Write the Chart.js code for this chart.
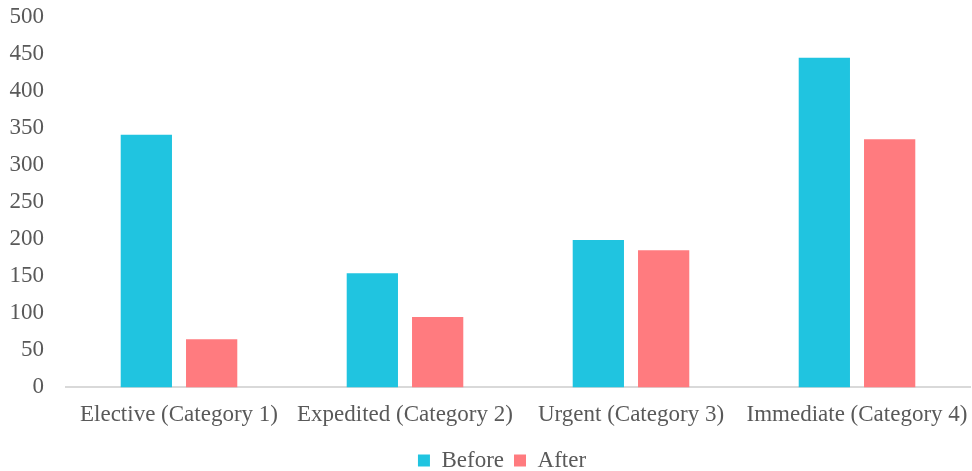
<!DOCTYPE html>
<html>
<head>
<meta charset="utf-8">
<script src="https://cdn.jsdelivr.net/npm/chart.js@4/dist/chart.umd.min.js"></script>
<style>
  html, body { margin: 0; padding: 0; background: #fff; }
  #wrap { width: 972px; height: 471px; }
</style>
</head>
<body>
<div id="wrap"><canvas id="c" width="972" height="471"></canvas></div>
<script>
const categories = [
  'Elective (Category 1)',
  'Expedited (Category 2)',
  'Urgent (Category 3)',
  'Immediate (Category 4)'
];
const beforeValues = [341, 154, 199, 445];
const afterValues = [65, 95, 185, 335];

const textColor = '#595959';
const serif = '"Liberation Serif", "Times New Roman", serif';

// nudges the bottom legend a little to the right of the canvas centre
const legendShift = {
  id: 'legendShift',
  afterLayout(chart) {
    if (chart.legend) {
      chart.legend.left += 17;
      chart.legend.right += 17;
    }
  }
};

new Chart(document.getElementById('c'), {
  type: 'bar',
  data: {
    labels: categories,
    datasets: [
      {
        label: 'Before',
        data: beforeValues,
        backgroundColor: '#20C4E0',
        categoryPercentage: 0.578,
        barPercentage: 0.785
      },
      {
        label: 'After',
        data: afterValues,
        backgroundColor: '#FF7B7F',
        categoryPercentage: 0.578,
        barPercentage: 0.785
      }
    ]
  },
  plugins: [legendShift],
  options: {
    responsive: false,
    animation: false,
    layout: { padding: { left: 0, right: 2, top: 17, bottom: -11 } },
    plugins: {
      legend: {
        position: 'bottom',
        labels: {
          color: textColor,
          font: { family: serif, size: 23 },
          boxWidth: 12,
          boxHeight: 12,
          padding: 10
        }
      },
      tooltip: { enabled: false }
    },
    scales: {
      x: {
        grid: { display: false, drawTicks: false },
        border: { display: true, color: '#d9d9d9', width: 2 },
        ticks: {
          color: textColor,
          font: { family: serif, size: 23 },
          padding: 14,
          maxRotation: 0
        },
        afterFit(scale) {
          scale.paddingLeft = 0;
          scale.paddingRight = 0;
          scale.height -= 4;
        }
      },
      y: {
        min: 0,
        max: 500,
        grid: { display: false, drawTicks: false },
        border: { display: false },
        ticks: {
          stepSize: 50,
          color: textColor,
          font: { family: serif, size: 23 },
          padding: 22
        },
        afterFit(scale) {
          scale.width = 66;
          scale.paddingTop = 0;
          scale.paddingBottom = 0;
        }
      }
    }
  }
});
</script>
</body>
</html>
